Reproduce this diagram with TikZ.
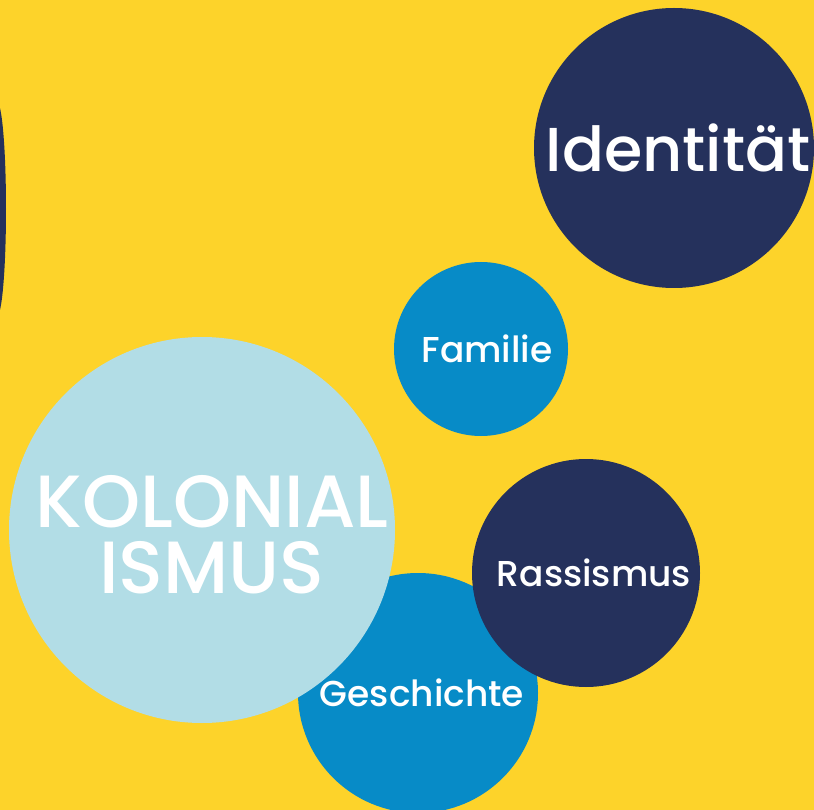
\documentclass[tikz,border=0pt]{standalone}
\usepackage{fontspec}
\setmainfont{Poppins Medium}
\definecolor{nen}{HTML}{FDD32A}
\definecolor{xanhdam}{HTML}{25315C}
\definecolor{xanh}{HTML}{078BC7}
\definecolor{xanhnhat}{HTML}{B2DDE6}
\begin{document}
\begin{tikzpicture}[x=1pt,y=-1pt, line join=round, line cap=round,
  bubble/.style={circle, inner sep=0pt, minimum size=#1},
  chu/.style={text=white, align=center, inner sep=0pt, font=\fontsize{#1}{#1}\selectfont}]
\def\W{814} \def\H{810} % Kich thuoc
\useasboundingbox (0,0) rectangle (\W,\H);
\clip (0,0) rectangle (\W,\H);
\fill[nen] (0,0) rectangle (\W,\H);
% hinh bi cat o mep trai
\fill[xanhdam] (-3,209) ellipse (9 and 107);
\node[bubble=280pt, fill=xanhdam] (identitaet) at (674,148) {};
\node[bubble=174pt, fill=xanh] (familie) at (481,349) {};
\node[bubble=240pt, fill=xanh] (geschichte) at (418,693) {};
\node[bubble=386pt, fill=xanhnhat] (kolonialismus) at (202,530) {};
\node[bubble=228pt, fill=xanhdam] (rassismus) at (586,573) {};
% chu
\node[chu=62] (t-identitaet) at ([xshift=4]identitaet) {Identität};
\node[chu=36] (t-familie) at ([xshift=6]familie) {Familie};
\node[chu=36] (t-geschichte) at ([xshift=4]geschichte) {Geschichte};
\node[chu=36] (t-rassismus) at ([xshift=8]rassismus) {Rassismus};
\node[chu=74, anchor=base, text height=52pt, text depth=0pt] (t-kolonial) at (212,527) {KOLONIAL};
\node[chu=74, anchor=base, text height=52pt, text depth=0pt] (t-ismus) at (212,593) {ISMUS};
\end{tikzpicture}
\end{document}
